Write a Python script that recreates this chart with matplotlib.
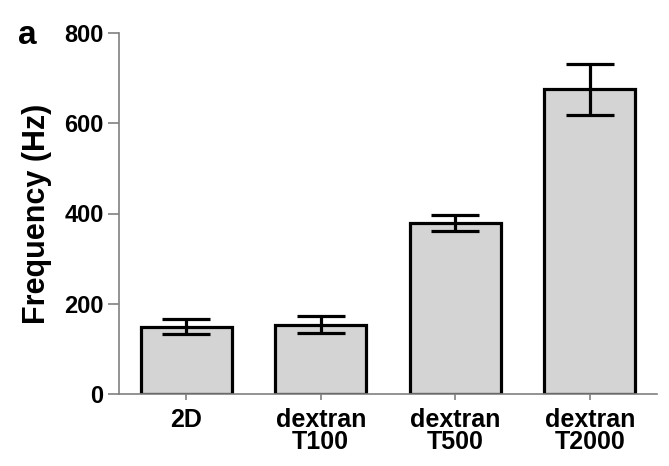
import matplotlib
matplotlib.use("Agg")
import matplotlib.pyplot as plt

categories = ["2D", "dextran\nT100", "dextran\nT500", "dextran\nT2000"]
means = [149, 154, 379, 675]
errors = [17, 19, 18, 56]
yticks = [0, 200, 400, 600, 800]

plt.rcParams['font.family'] = ['Liberation Sans', 'DejaVu Sans']
plt.rcParams['font.weight'] = 'bold'

fig = plt.figure(figsize=(6.69, 4.66), dpi=100)
ax = fig.add_axes([119/669, (466-394)/466, (657-119)/669, (394-33)/466])

x = list(range(len(categories)))
ax.bar(x, means, width=0.68, color='#d4d4d4', edgecolor='black', linewidth=2.3, zorder=2)
ax.errorbar(x, means, yerr=errors, fmt='none', ecolor='black', elinewidth=2.3,
            capsize=17, capthick=2.3, zorder=3)

ax.set_xlim(-0.5, 3.5)
ax.set_ylim(0, 800)
ax.set_yticks(yticks)
ax.set_yticklabels([str(v) for v in yticks], fontsize=17, fontweight='bold')
ax.set_xticks(x)
ax.set_xticklabels(categories, fontsize=18, fontweight='bold', linespacing=0.9)
ax.set_ylabel("Frequency (Hz)", fontsize=22, fontweight='bold', labelpad=9)

for s in ['top', 'right']:
    ax.spines[s].set_visible(False)
for s in ['left', 'bottom']:
    ax.spines[s].set_color('#808080')
    ax.spines[s].set_linewidth(1.2)
ax.tick_params(axis='y', length=8, width=1.2, color='#808080', pad=3)
ax.tick_params(axis='x', length=4, width=1.2, color='#808080', pad=6)

fig.text(18/669, 1 - 36/466, "a", fontsize=24, fontweight='bold', va='center', ha='left')

fig.savefig("out.png", dpi=100)
